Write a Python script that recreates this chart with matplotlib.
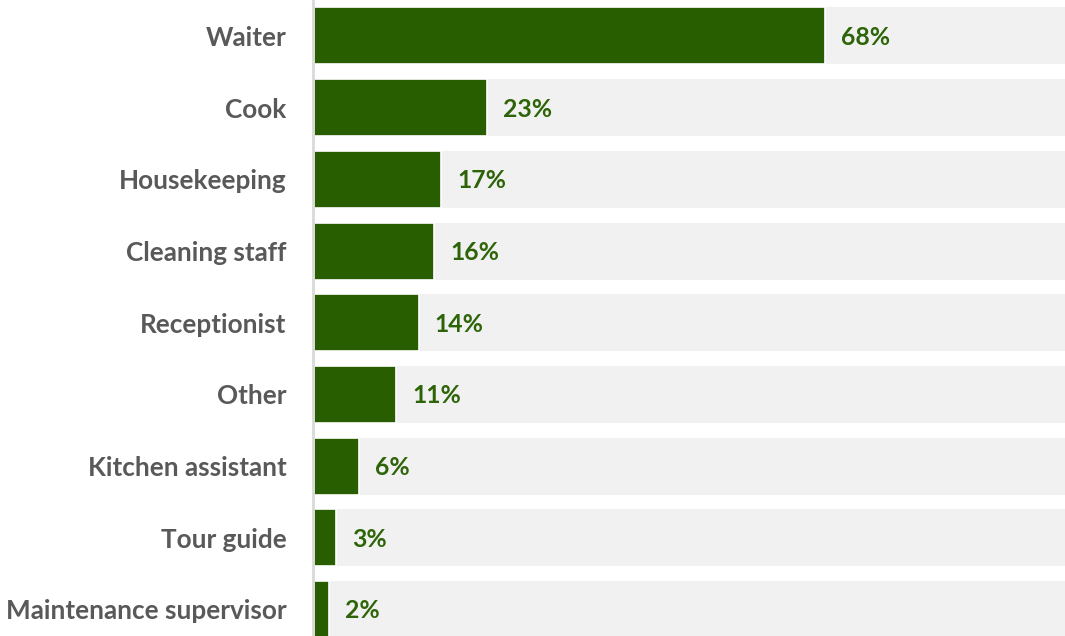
import matplotlib.pyplot as plt

roles = ["Waiter", "Cook", "Housekeeping", "Cleaning staff", "Receptionist",
         "Other", "Kitchen assistant", "Tour guide", "Maintenance supervisor"]
shares = [68, 23, 17, 16, 14, 11, 6, 3, 2]

green = '#285e00'
track = '#f1f1f1'

plt.rcParams['font.family'] = ['Lato', 'DejaVu Sans']

fig = plt.figure(figsize=(10.65, 6.36), dpi=100)
ax = fig.add_axes([313 / 1065, 0, 1 - 313 / 1065, 1])

y = list(range(len(roles)))
# full-width background track, then the share on top
ax.barh(y, [100] * len(roles), height=0.795, color=track, zorder=1)
ax.barh(y, shares, height=0.795, color=green, edgecolor='white', linewidth=1.2, zorder=2)

for yi, v in zip(y, shares):
    ax.annotate(f"{v}%", (v, yi), xytext=(11.5, -1), textcoords='offset points',
                ha='left', va='center', fontsize=17.8, fontweight='bold', color='#2e6408')

ax.set_xlim(-0.1, 100)
ax.set_ylim(8.37, -0.502)
ax.set_yticks(y)
ax.set_yticklabels(roles, fontsize=18.8, fontweight='bold', color='#595959')
ax.tick_params(axis='y', length=0, pad=19)
ax.set_xticks([])
for s in ['top', 'right', 'bottom']:
    ax.spines[s].set_visible(False)
ax.spines['left'].set_color('#d9d9d9')
ax.spines['left'].set_linewidth(2)
ax.spines['left'].set_zorder(3)

fig.savefig('out.png', dpi=100)
